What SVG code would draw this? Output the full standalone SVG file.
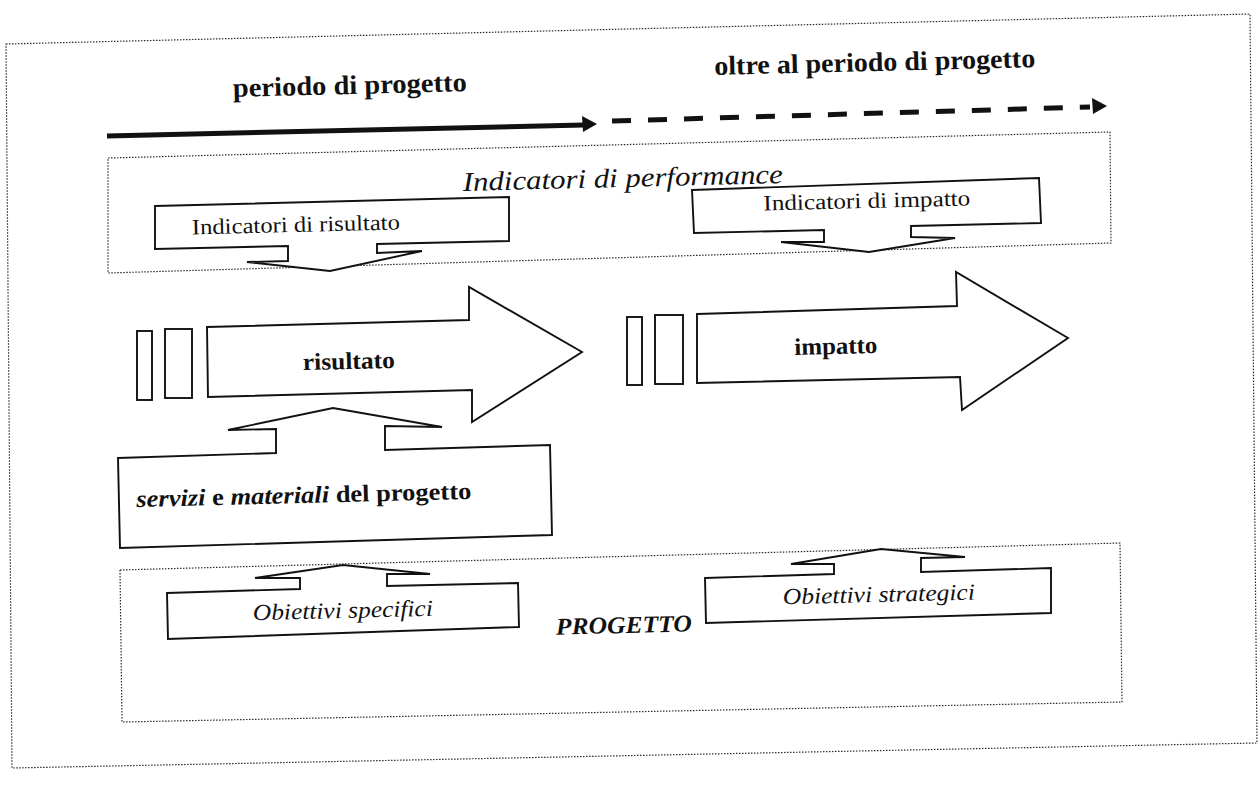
<svg xmlns="http://www.w3.org/2000/svg" width="1258" height="790" viewBox="0 0 1258 790">
<style>
.dot{fill:none;stroke:#2a2a2a;stroke-width:1.2;stroke-dasharray:1.5 1.5}
.shape{fill:#fff;stroke:#111;stroke-width:1.9;stroke-linejoin:miter}
.t{font-family:"Liberation Serif","Times New Roman",serif;fill:#111;text-anchor:middle}
.b{font-weight:bold}
.i{font-style:italic}
</style>
<rect width="1258" height="790" fill="#fff"/>
<g id="frame">
<polygon class="dot" points="6,44 1250,14 1257,743 12,768"/>
</g>
<g id="header">
<text class="t b" x="350" y="94" font-size="27" textLength="234" lengthAdjust="spacingAndGlyphs" transform="rotate(-1.4 350 94)">periodo di progetto</text>
<text class="t b" x="875" y="71" font-size="27" textLength="321" lengthAdjust="spacingAndGlyphs" transform="rotate(-1.4 875 71)">oltre al periodo di progetto</text>
</g>
<g id="connectors">
<line x1="107" y1="136" x2="584" y2="125" stroke="#111" stroke-width="5"/>
<polygon points="597,124 582,116 583,132" fill="#111"/>
<line x1="612" y1="121" x2="1090" y2="107" stroke="#111" stroke-width="5" stroke-dasharray="19 17"/>
<polygon points="1107,106 1092,98 1093,114" fill="#111"/>
</g>
<g id="performance">
<polygon class="dot" points="108,158 1110,132 1111,243 108,273"/>
<text class="t i" x="623" y="187" font-size="27" textLength="320" lengthAdjust="spacingAndGlyphs" transform="rotate(-1.4 623 187)">Indicatori di performance</text>
</g>
<g id="indicatori-risultato">
<polygon class="shape" points="155,206 509,197 509,241 377,244 377,253 422,251 330,271 247,262 288,261 288,246 155,249"/>
<text class="t" x="296" y="232" font-size="22" textLength="208" lengthAdjust="spacingAndGlyphs" transform="rotate(-1.4 296 232)">Indicatori di risultato</text>
</g>
<g id="indicatori-impatto">
<polygon class="shape" points="692,190 1039,178 1041,223 911,226 911,237 955,238 869,252 781,242 824,242 824,230 694,233"/>
<text class="t" x="867" y="208" font-size="22" textLength="207" lengthAdjust="spacingAndGlyphs" transform="rotate(-1.4 867 208)">Indicatori di impatto</text>
</g>
<g id="risultato">
<rect class="shape" x="137" y="331" width="15" height="69"/>
<rect class="shape" x="165" y="329" width="27" height="69"/>
<polygon class="shape" points="207,327 469,320 469,287 582,352 472,422 472,390 208,397"/>
<text class="t b" x="349" y="369" font-size="24" textLength="92" lengthAdjust="spacingAndGlyphs" transform="rotate(-1.4 349 369)">risultato</text>
</g>
<g id="impatto">
<rect class="shape" x="627" y="317" width="15" height="68"/>
<rect class="shape" x="655" y="315" width="28" height="69"/>
<polygon class="shape" points="697,314 957,306 956,272 1068,338 962,410 960,377 697,383"/>
<text class="t b" x="836" y="354" font-size="24" textLength="83" lengthAdjust="spacingAndGlyphs" transform="rotate(-1.4 836 354)">impatto</text>
</g>
<g id="servizi">
<polygon class="shape" points="118,458 276,453 276,429 228,430 333,408 442,427 385,426 385,450 550,445 552,535 120,548"/>
<text class="t b" x="304" y="503" font-size="24" textLength="335" lengthAdjust="spacingAndGlyphs" transform="rotate(-1.4 304 503)"><tspan class="i">servizi</tspan> e <tspan class="i">materiali</tspan>  del progetto</text>
</g>
<g id="progetto">
<polygon class="dot" points="120,570 1120,543 1122,702 122,722"/>
<text class="t b i" x="624" y="633" font-size="24" textLength="136" lengthAdjust="spacingAndGlyphs" transform="rotate(-1.4 624 633)">PROGETTO</text>
</g>
<g id="obiettivi-specifici">
<polygon class="shape" points="167,593 300,589 300,578 255,578 343,565 430,574 387,574 387,586 518,583 519,627 168,639"/>
<text class="t i" x="343" y="618" font-size="23" textLength="180" lengthAdjust="spacingAndGlyphs" transform="rotate(-1.4 343 618)">Obiettivi specifici</text>
</g>
<g id="obiettivi-strategici">
<polygon class="shape" points="705,578 834,574 834,564 791,564 881,549 965,557 921,558 921,572 1051,568 1051,613 706,623"/>
<text class="t i" x="879" y="602" font-size="23" textLength="192" lengthAdjust="spacingAndGlyphs" transform="rotate(-1.4 879 602)">Obiettivi strategici</text>
</g>
</svg>
